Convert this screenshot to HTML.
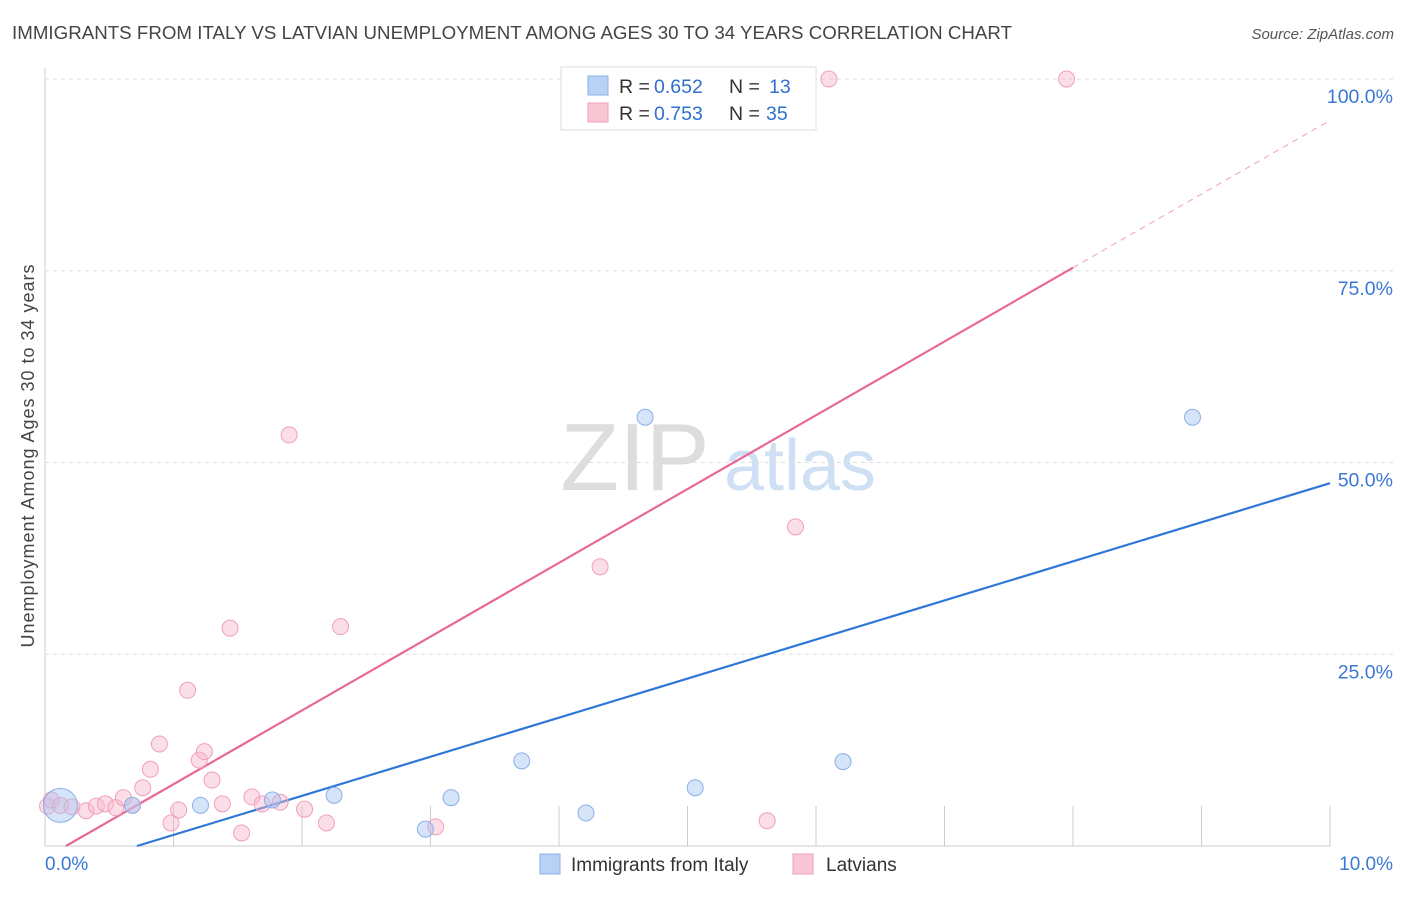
<!DOCTYPE html>
<html><head><meta charset="utf-8"><style>
body{margin:0;background:#fff;font-family:"Liberation Sans",sans-serif}
svg text{font-family:"Liberation Sans",sans-serif}
</style></head><body>
<svg width="1406" height="892" id="chart">
<text x="12" y="39" font-size="18.7" fill="#444" textLength="1000">IMMIGRANTS FROM ITALY VS LATVIAN UNEMPLOYMENT AMONG AGES 30 TO 34 YEARS CORRELATION CHART</text>
<text x="1394" y="39" font-size="15" fill="#555" font-style="italic" text-anchor="end">Source: ZipAtlas.com</text>
<text x="34" y="456" font-size="18" fill="#444" text-anchor="middle" textLength="383" transform="rotate(-90 34 456)">Unemployment Among Ages 30 to 34 years</text>
<g><text x="635" y="490" font-size="96" fill="#ddd" font-family="Liberation Serif" text-anchor="middle">ZIP</text><text x="800" y="490" font-size="72" fill="#cfe0f4" text-anchor="middle">atlas</text></g>
<g id="grid"></g><g id="lines"></g><g id="pts"></g>
<g>
<rect x="561" y="67" width="255" height="63" fill="#fff" stroke="#ddd"/>
<rect x="588" y="76" width="20" height="19" fill="#b8d2f6" stroke="#8ab0e8"/>
<rect x="588" y="103" width="20" height="19" fill="#f9c6d6" stroke="#f0a0b8"/>
<text x="619" y="93" font-size="19.5" fill="#333">R =</text>
<text x="654" y="93" font-size="19.5" fill="#2f6fd0">0.652</text>
<text x="729" y="93" font-size="19.5" fill="#333">N =</text>
<text x="769" y="93" font-size="19.5" fill="#2f6fd0">13</text>
<text x="619" y="120" font-size="19.5" fill="#333">R =</text>
<text x="654" y="120" font-size="19.5" fill="#2f6fd0">0.753</text>
<text x="729" y="120" font-size="19.5" fill="#333">N =</text>
<text x="766" y="120" font-size="19.5" fill="#2f6fd0">35</text>
</g>
<g>
<rect x="540" y="854" width="20" height="20" fill="#b8d2f6" stroke="#8ab0e8"/>
<text x="571" y="871" font-size="19" fill="#333">Immigrants from Italy</text>
<rect x="793" y="854" width="20" height="20" fill="#f9c6d6" stroke="#f0a0b8"/>
<text x="826" y="871" font-size="19" fill="#333">Latvians</text>
</g>
</svg>
<script>
const xTicks=[0,1,2,3,4,5,6,7,8,9,10];
const yTicks=[25,50,75,100];
const italyX=[0.12,0.68,1.21,1.77,2.25,2.96,3.16,3.71,4.21,4.67,5.06,6.21,8.93];
const italyY=[5.3,5.3,5.3,6.0,6.6,2.2,6.3,11.1,4.3,55.9,7.6,11.0,55.9];
const latX=[0.02,0.05,0.12,0.21,0.32,0.40,0.47,0.55,0.61,0.68,0.76,0.82,0.89,0.98,1.04,1.11,1.20,1.24,1.30,1.38,1.44,1.53,1.61,1.69,1.83,1.90,2.02,2.19,2.30,3.04,4.32,5.62,5.84,6.10,7.95];
const latY=[5.2,6.0,5.3,5.1,4.6,5.2,5.5,5.0,6.3,5.3,7.6,10.0,13.3,3.0,4.7,20.3,11.2,12.3,8.6,5.5,28.4,1.7,6.4,5.5,5.7,53.6,4.8,3.0,28.6,2.5,36.4,3.3,41.6,100,100];
const italyLine=[[0.716,0],[10,47.3]];
const latLine=[[0.163,0],[8.0,75.4],[10,94.6]];
const sx=v=>45+v*128.5, sy=v=>846-v*7.67;
const NS='http://www.w3.org/2000/svg';
function mk(p,t,a){const e=document.createElementNS(NS,t);for(const k in a)e.setAttribute(k,a[k]);p.appendChild(e);return e;}
const g=document.getElementById('grid');
const ax=mk(g,'line',{x1:45,y1:68,x2:45,y2:846,stroke:'#ccc'});


const bx=mk(g,'line',{x1:45,y1:846,x2:1330,y2:846,stroke:'#ccc'});


yTicks.forEach(t=>{
 const l=mk(g,'line',{x1:45,y1:sy(t),x2:1393,y2:sy(t),stroke:'#ddd','stroke-dasharray':'4,4'});
 
 
 const tx=mk(g,'text',{x:1393,y:sy(t)+24,'font-size':19.5,fill:'#3a78d4','text-anchor':'end'});
 tx.textContent=t.toFixed(1)+'%';
 
 
});
xTicks.forEach(t=>{
 if(t>0){const l=mk(g,'line',{x1:sx(t),y1:806,x2:sx(t),y2:846,stroke:'#ccc'});
 
 }
});
[[0,'0.0%','start',45],[10,'10.0%','end',1393]].forEach(d=>{
 const tx=mk(g,'text',{x:d[3],y:870,'font-size':19,fill:'#3a78d4','text-anchor':d[2]});
 tx.textContent=d[1];
 
 
});
const L=document.getElementById('lines');
const bl=mk(L,'line',{x1:sx(italyLine[0][0]),y1:sy(italyLine[0][1]),x2:sx(italyLine[1][0]),y2:sy(italyLine[1][1]),stroke:'#2f78d8','stroke-width':2.2});


const pl=mk(L,'line',{x1:sx(latLine[0][0]),y1:sy(latLine[0][1]),x2:sx(latLine[1][0]),y2:sy(latLine[1][1]),stroke:'#e8689a','stroke-width':2.2});


const pd=mk(L,'line',{x1:sx(latLine[1][0]),y1:sy(latLine[1][1]),x2:sx(latLine[2][0]),y2:sy(latLine[2][1]),stroke:'#f0a0b8','stroke-width':1,'stroke-dasharray':'6,5'});


const P=document.getElementById('pts');
latX.forEach((x,i)=>{
 const c=mk(P,'circle',{cx:sx(x),cy:sy(latY[i]),r:8,fill:'rgba(248,182,203,0.45)',stroke:'#f0a0b8','stroke-width':1});
 
 
});
italyX.forEach((x,i)=>{
 const c=mk(P,'circle',{cx:sx(x),cy:sy(italyY[i]),r:i===0?17:8,fill:'rgba(164,196,243,0.45)',stroke:'#8ab0e8','stroke-width':1});
 
 
});
</script>
</body></html>
